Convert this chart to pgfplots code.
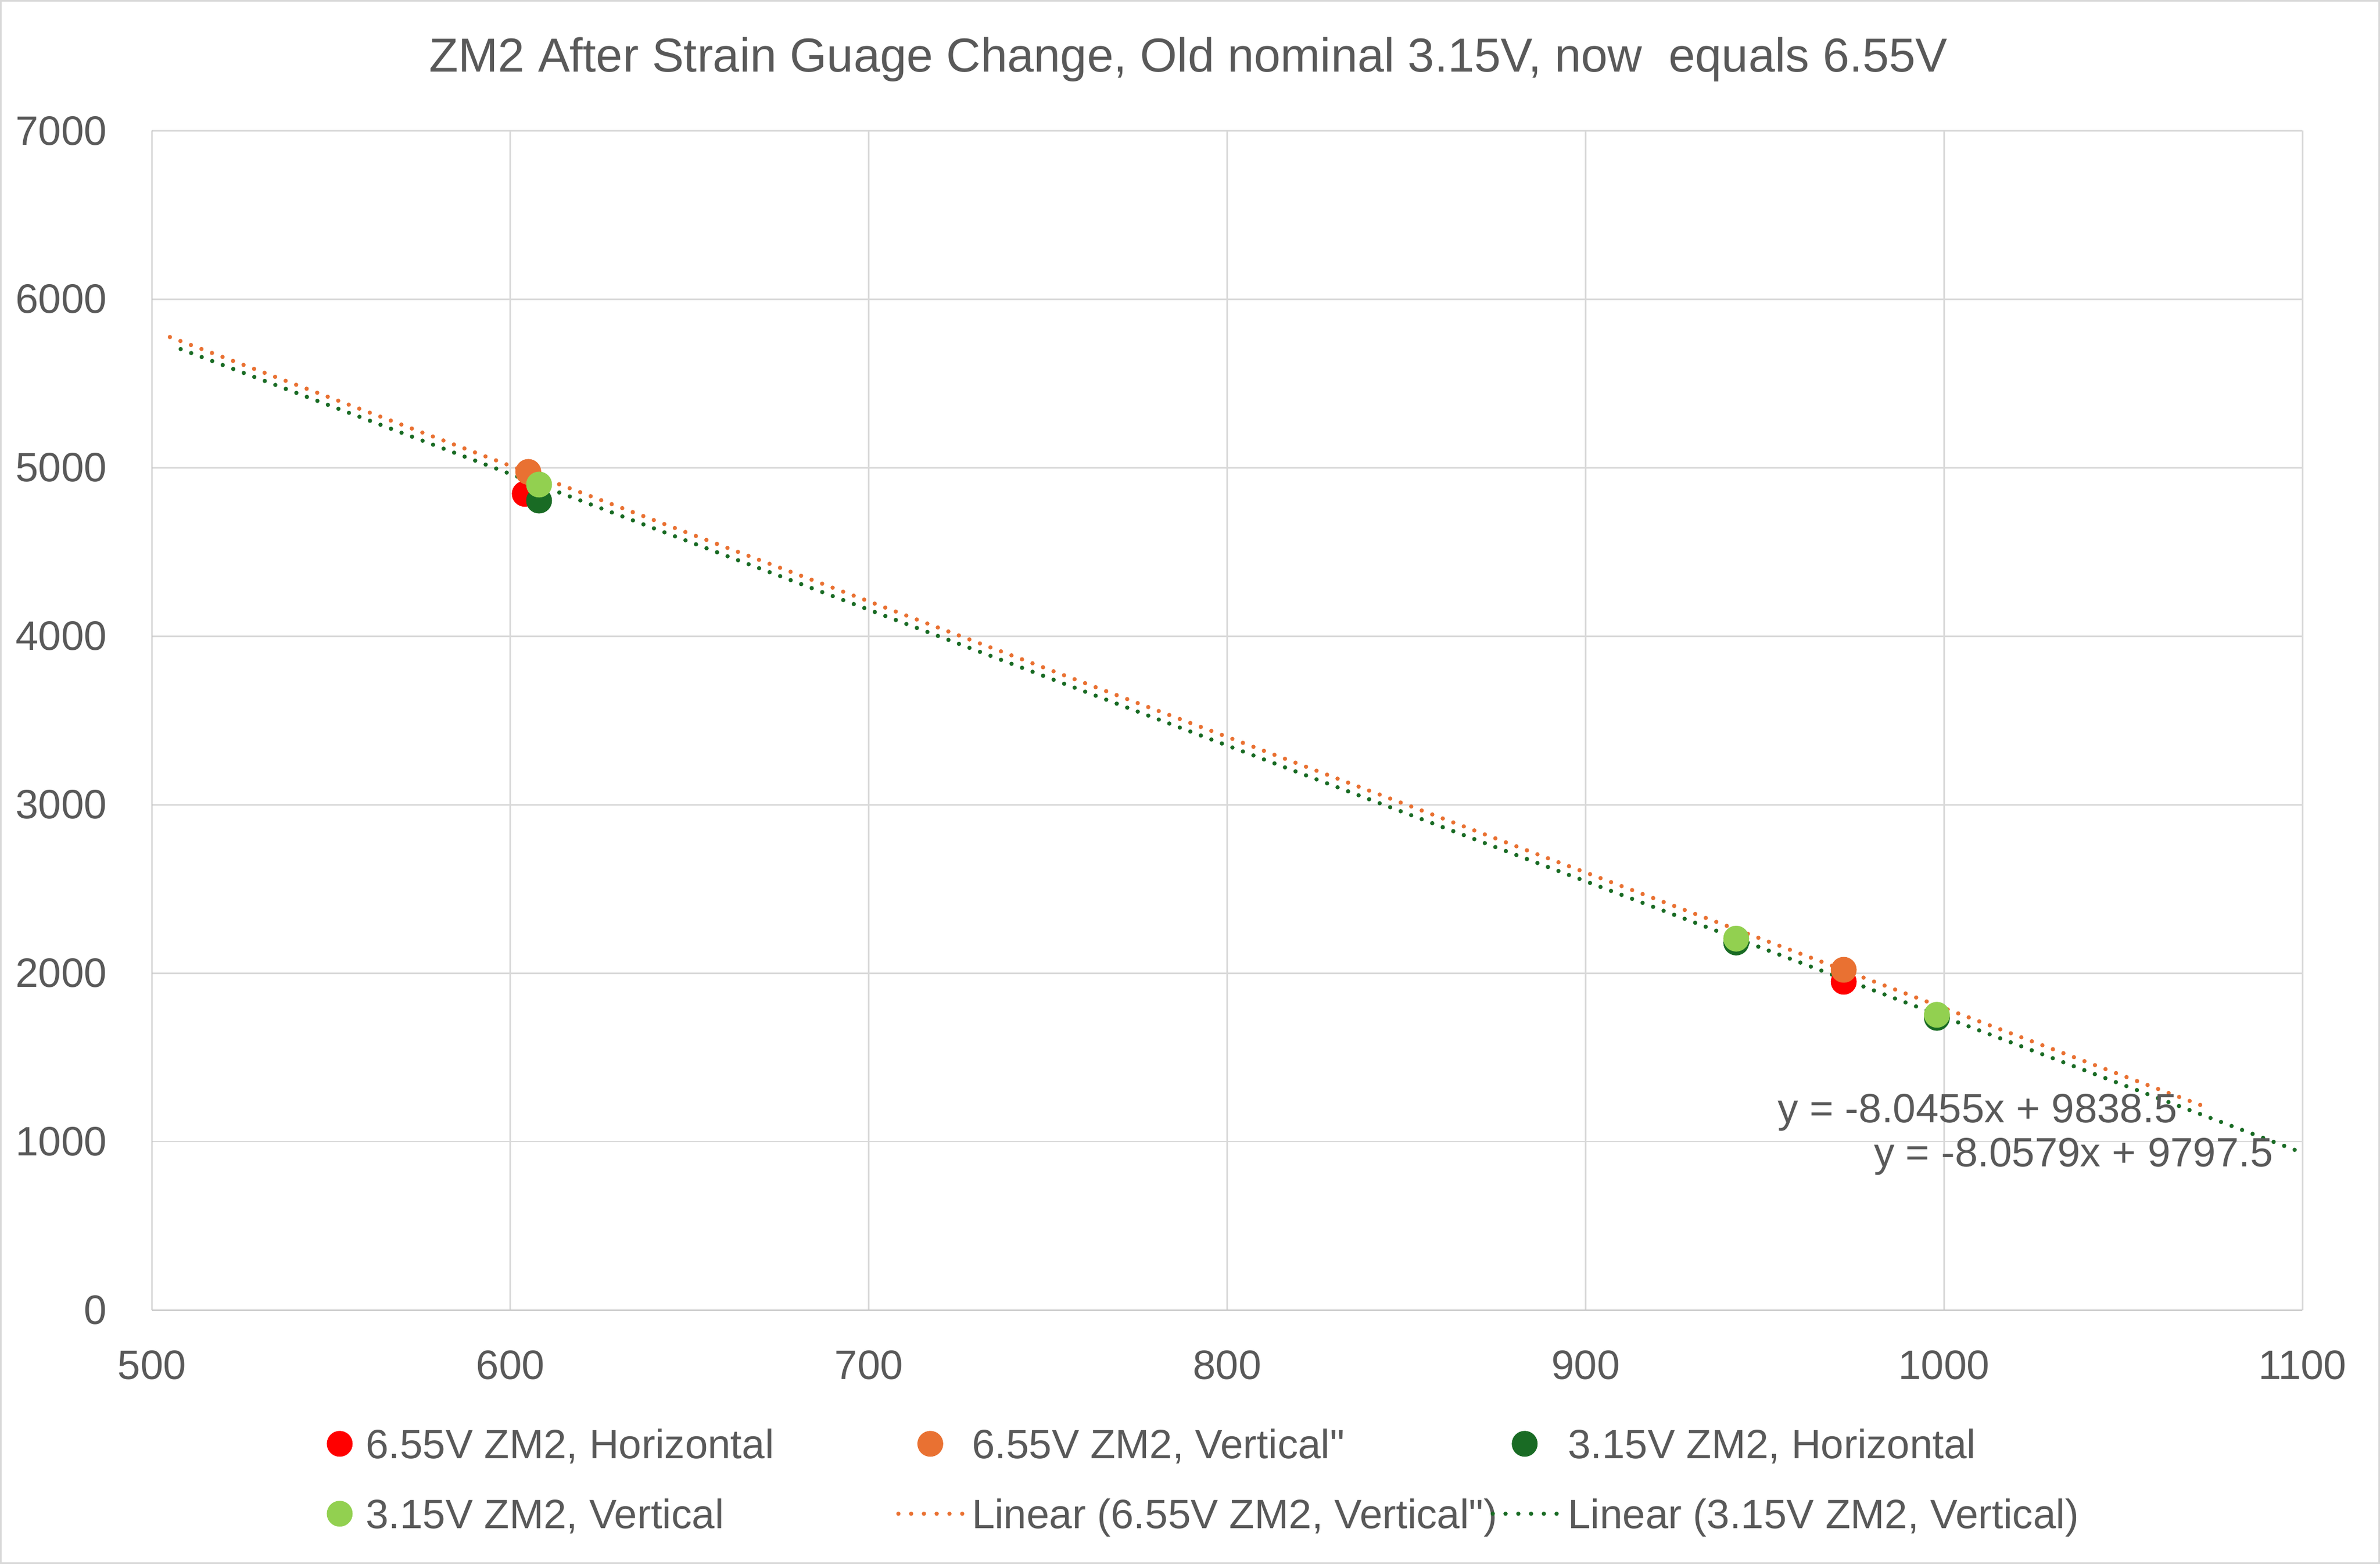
\documentclass[border=0pt]{standalone}
\usepackage{fontspec}
\setmainfont{Liberation Sans}
\usepackage{pgfplots}
\pgfplotsset{compat=1.18}
\usepackage{pgfplotstable}
\definecolor{txt}{HTML}{595959}
\definecolor{gridc}{HTML}{D9D9D9}
\definecolor{axc}{HTML}{BFBFBF}
\definecolor{cred}{HTML}{FF0000}
\definecolor{corange}{HTML}{E97132}
\definecolor{cdg}{HTML}{196B24}
\definecolor{clg}{HTML}{92D050}

\pgfplotstableread{
x y
604 4845
972 1949
}\redH
\pgfplotstableread{
x y
605 4975
972 2020
}\orangeV
\pgfplotstableread{
x y
608 4805
942 2182
998 1735
}\dgH
\pgfplotstableread{
x y
608 4900
942 2205
998 1753
}\lgV
\pgfplotstableread{
x y
505 5775.5
1072 1213.7
}\trendO
\pgfplotstableread{
x y
508 5704.1
1098 949.9
}\trendG

\newcommand{\la}[1]{\makebox[176.5pt][l]{\hspace{2pt}#1}}
\newcommand{\lb}[1]{\makebox[170.65pt][l]{#1}}
\newcommand{\lc}[1]{\makebox[0pt][l]{#1}}

\pgfplotsset{
  mymark/.style={only marks, mark=*, mark size=4.1pt, mark options={draw=#1, fill=#1, line width=0.3pt},
    legend image code/.code={\draw[##1] plot coordinates {(10.5pt,0pt)};}},
  mytrend/.style={no marks, draw=#1, line width=1.4pt, line cap=round, dash pattern=on 0pt off 3.7pt,
    legend image code/.code={\draw[##1, dash pattern=on 0pt off 4.2pt] (0pt,0pt) -- (21pt,0pt);}},
}

\begin{document}
\begin{tikzpicture}
\draw[gridc, line width=0.5pt] (0.25pt,0.25pt) rectangle (782.75pt,514.25pt);
\node[anchor=base, font=\fontsize{15.7}{19}\selectfont, text=txt, inner sep=0pt] at (391pt,490.9pt)
  {ZM2 After Strain Guage Change, Old nominal 3.15V, now\ \ equals 6.55V};
\begin{axis}[
  at={(50pt,83.5pt)}, anchor=south west, scale only axis,
  width=707.5pt, height=388pt,
  xmin=500, xmax=1100, ymin=0, ymax=7000,
  xtick={500,600,...,1100}, ytick={0,1000,...,7000},
  grid=major, major grid style={draw=gridc, line width=0.5pt},
  axis x line=bottom, axis y line=left,
  axis line style={-, draw=axc, line width=0.5pt},
  major tick length=0pt,
  tick label style={font=\fontsize{13.5}{16}\selectfont, text=txt, inner sep=0pt},
  /pgf/number format/assume math mode=true,
  /pgf/number format/1000 sep={},
  xticklabel style={anchor=base, yshift=-22.8pt},
  yticklabel style={anchor=east, xshift=-14.6pt},
  legend columns=3, legend cell align=left,
  legend style={at={(rel axis cs:0.0815,0)}, anchor=north west, yshift=-36.8pt,
    draw=none, fill=none, inner sep=0pt, outer sep=0pt, row sep=8.67pt,
    font=\fontsize{13.5}{16}\selectfont,
    nodes={inner sep=0pt, text height=12pt, text depth=2.33pt, text=txt},
    /tikz/every odd column/.append style={column sep=2.5pt}},
]
\addplot[mymark=cred] table[x=x,y=y]{\redH};
\addlegendentry{\la{6.55V ZM2, Horizontal}}
\addplot[mymark=corange] table[x=x,y=y]{\orangeV};
\addlegendentry{\lb{6.55V ZM2, Vertical\textquotedbl}}
\addplot[mymark=cdg] table[x=x,y=y]{\dgH};
\addlegendentry{\lc{3.15V ZM2, Horizontal}}
\addplot[mymark=clg] table[x=x,y=y]{\lgV};
\addlegendentry{\la{3.15V ZM2, Vertical}}
\addplot[mytrend=corange] table[x=x,y=y]{\trendO};
\addlegendentry{\lb{Linear (6.55V ZM2, Vertical\textquotedbl)}}
\addplot[mytrend=cdg] table[x=x,y=y]{\trendG};
\addlegendentry{\lc{Linear (3.15V ZM2, Vertical)}}
\node[anchor=base east, font=\fontsize{13.5}{16}\selectfont, text=txt, inner sep=0pt] at (axis cs:1065.2,1112) {y = -8.0455x + 9838.5};
\node[anchor=base east, font=\fontsize{13.5}{16}\selectfont, text=txt, inner sep=0pt] at (axis cs:1092,851) {y = -8.0579x + 9797.5};
\end{axis}
\end{tikzpicture}
\end{document}
